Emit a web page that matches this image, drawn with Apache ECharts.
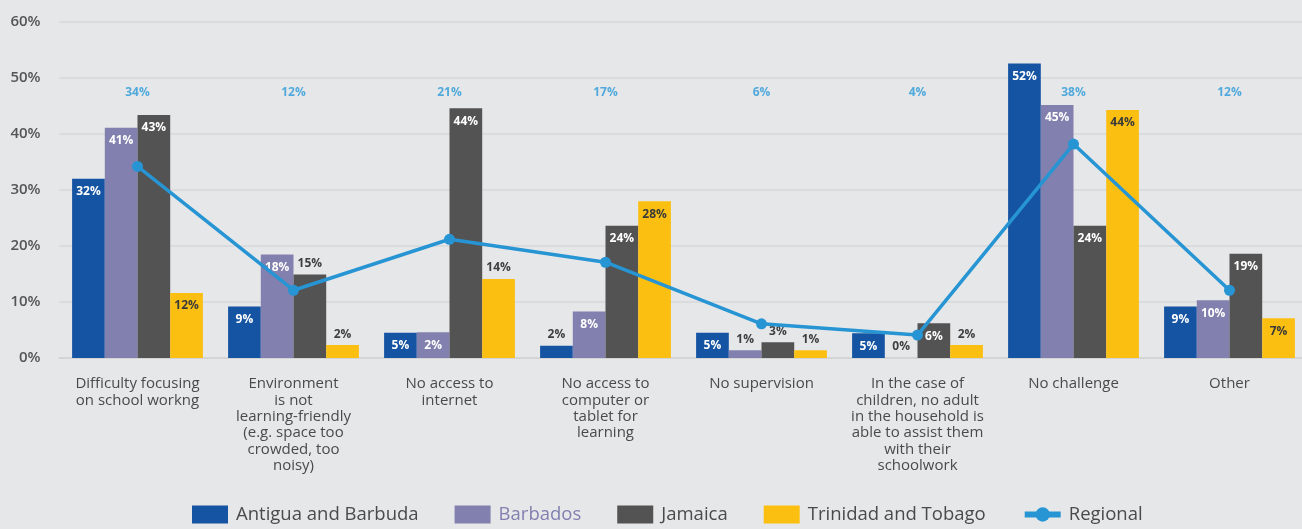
<!DOCTYPE html>
<html>
<head>
<meta charset="utf-8">
<script src="https://cdn.jsdelivr.net/npm/echarts@6/dist/echarts.min.js"></script>
<style>
html,body{margin:0;padding:0;background:#e6e7e8;}
#c{width:1302px;height:529px;}
</style>
</head>
<body>
<div id="c"></div>
<script>
// ---- data ----
const categories = [
  "Difficulty focusing\non school workng",
  "Environment\nis not\nlearning-friendly\n(e.g. space too\ncrowded, too\nnoisy)",
  "No access to\ninternet",
  "No access to\ncomputer or\ntablet for\nlearning",
  "No supervision",
  "In the case of\nchildren, no adult\nin the household is\nable to assist them\nwith their\nschoolwork",
  "No challenge",
  "Other"
];
const seriesNames = ["Antigua and Barbuda", "Barbados", "Jamaica", "Trinidad and Tobago", "Regional"];
// bar heights as drawn
const antigua  = [32.0, 9.2, 4.5, 2.2, 4.5, 4.4, 52.6, 9.2];
const barbados = [41.1, 18.5, 4.6, 8.3, 1.4, 0, 45.2, 10.3];
const jamaica  = [43.4, 14.9, 44.6, 23.6, 2.8, 6.2, 23.6, 18.6];
const trinidad = [11.6, 2.3, 14.1, 28.0, 1.4, 2.3, 44.3, 7.1];
const regional = [34.2, 12.1, 21.2, 17.1, 6.1, 4.1, 38.2, 12.1];
// printed labels
const antiguaLabels  = [32, 9, 5, 2, 5, 5, 52, 9];
const barbadosLabels = [41, 18, 2, 8, 1, 0, 45, 10];
const jamaicaLabels  = [43, 15, 44, 24, 3, 6, 24, 19];
const trinidadLabels = [12, 2, 14, 28, 1, 2, 44, 7];
const regionalLabels = [34, 12, 21, 17, 6, 4, 38, 12];
const yTicks = [0, 10, 20, 30, 40, 50, 60];

// ---- styling ----
const colors = ["#1554a2", "#8180ae", "#535353", "#fbbf11", "#2795d4"];
const FONT = "'Open Sans', 'Noto Sans', sans-serif";
const labelsAbove = {
  0: [3],
  1: [4, 5],
  2: [1, 4],
  3: [1, 2, 4, 5]
};
const REGIONAL_LABEL_LEVEL = 47.4;

function barSeries(idx, values, labels) {
  const inColor = idx === 3 ? "#3a3a3a" : "#ffffff";
  return {
    name: seriesNames[idx],
    type: "bar",
    barWidth: 32.7,
    barGap: "0%",
    itemStyle: { color: colors[idx] },
    z: 2,
    data: values.map((v, i) => {
      const above = (labelsAbove[idx] || []).indexOf(i) >= 0;
      return {
        value: v,
        label: {
          show: true,
          formatter: labels[i] + "%",
          position: above ? "top" : "insideTop",
          distance: above ? 5 : 7,
          color: above ? "#3f3f3f" : inColor,
          fontFamily: FONT,
          fontWeight: "bold",
          fontSize: 12
        }
      };
    })
  };
}

const chart = echarts.init(document.getElementById("c"), null, { renderer: "canvas" });
chart.setOption({
  backgroundColor: "#e6e7e8",
  animation: false,
  grid: { left: 59.5, top: 22, right: -5.5, bottom: 171, containLabel: false, outerBoundsMode: "none" },
  legend: {
    left: 192,
    top: 505,
    padding: 0,
    itemWidth: 36,
    itemHeight: 18,
    itemGap: 36,
    textStyle: { fontFamily: FONT, fontSize: 18.5, fontWeight: 500, color: "#4a4a4a", padding: [0, 0, 0, 3] },
    data: [
      { name: seriesNames[0], icon: "rect" },
      { name: seriesNames[1], icon: "rect", textStyle: { color: "#8180b0" } },
      { name: seriesNames[2], icon: "rect" },
      { name: seriesNames[3], icon: "rect" },
      { name: seriesNames[4], itemStyle: { borderWidth: 0 }, lineStyle: { width: 6 } }
    ]
  },
  xAxis: {
    type: "category",
    data: categories,
    axisTick: { show: false },
    axisLine: { lineStyle: { color: "#d3d4d5", width: 2 } },
    axisLabel: {
      interval: 0,
      margin: 18,
      fontFamily: FONT,
      fontSize: 15,
      lineHeight: 16.3,
      color: "#4a4a4a",
      align: "center"
    }
  },
  yAxis: {
    type: "value",
    min: 0,
    max: 60,
    interval: 10,
    axisLine: { show: false },
    axisTick: { show: false },
    splitLine: { lineStyle: { color: "#d6d7d8", width: 1.5 } },
    axisLabel: {
      margin: 19,
      fontFamily: FONT,
      fontSize: 15,
      fontWeight: 600,
      color: "#555555",
      padding: [0, 0, 13, 0],
      formatter: v => (yTicks.indexOf(v) >= 0 ? v + "%" : "")
    }
  },
  series: [
    barSeries(0, antigua, antiguaLabels),
    barSeries(1, barbados, barbadosLabels),
    barSeries(2, jamaica, jamaicaLabels),
    barSeries(3, trinidad, trinidadLabels),
    {
      name: seriesNames[4],
      type: "line",
      data: regional,
      z: 5,
      symbol: "circle",
      symbolSize: 11,
      lineStyle: { color: colors[4], width: 3.5 },
      itemStyle: { color: colors[4] }
    },
    {
      name: "regionalLabels",
      type: "scatter",
      symbolSize: 0,
      silent: true,
      z: 6,
      data: regionalLabels.map((v, i) => ({
        value: [i, REGIONAL_LABEL_LEVEL],
        label: {
          show: true,
          position: "inside",
          formatter: v + "%",
          color: "#2b9ad8",
          fontFamily: FONT,
          fontWeight: "bold",
          fontSize: 12
        }
      }))
    }
  ]
});
</script>
</body>
</html>
